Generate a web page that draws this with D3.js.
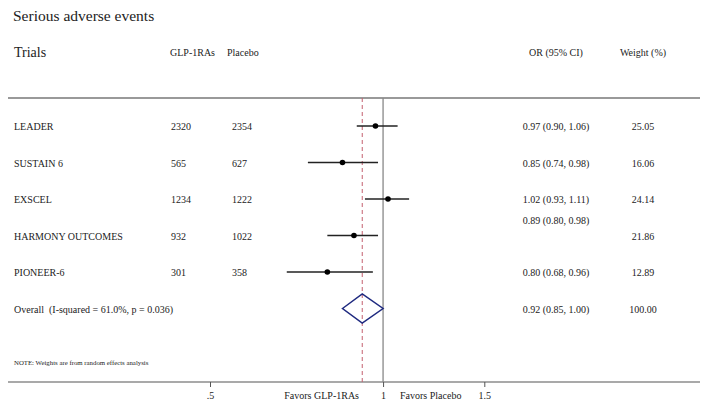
<!DOCTYPE html>
<html>
<head>
<meta charset="utf-8">
<script src="https://cdn.jsdelivr.net/npm/d3@7"></script>
<style>
  body { margin: 0; background: #fff; }
  svg text { font-family: "Liberation Serif", "Times New Roman", serif; fill: #222; white-space: pre; }
</style>
</head>
<body>
<div id="chart"></div>
<script>
// Data
let trials = ["LEADER", "SUSTAIN 6", "EXSCEL", "HARMONY OUTCOMES", "PIONEER-6"];
let glpEvents = [2320, 565, 1234, 932, 301];
let placeboEvents = [2354, 627, 1222, 1022, 358];
let orValues = [0.97, 0.85, 1.02, 0.89, 0.80];
let ciLow = [0.90, 0.74, 0.93, 0.80, 0.68];
let ciHigh = [1.06, 0.98, 1.11, 0.98, 0.96];
let weights = ["25.05", "16.06", "24.14", "21.86", "12.89"];

let overall = { label: "Overall  (I-squared = 61.0%, p = 0.036)", or: 0.92, lo: 0.85, hi: 1.00, weight: "100.00" };

let tickValues = [0.5, 1, 1.5];
let tickLabels = [".5", "1", "1.5"];

// Layout
let width = 708, height = 408;
let rowTop = 126, rowStep = 36.5;
let headerLineY = 98, axisY = 382;
let bodyFont = "10px";

let svg = d3.select("#chart").append("svg")
  .attr("width", width)
  .attr("height", height);

let xScale = d3.scaleLog().domain([0.5, 1.5]).range([210, 484.3]);
let yScale = d3.scaleLinear().domain([0, 1]).range([rowTop, rowTop + rowStep]);

// Title and headers
svg.append("text").attr("x", 13).attr("y", 21).style("font-size", "15.5px").text("Serious adverse events");
svg.append("text").attr("x", 14).attr("y", 57).style("font-size", "14px").text("Trials");
svg.append("text").attr("x", 170).attr("y", 56).style("font-size", "10px").text("GLP-1RAs");
svg.append("text").attr("x", 227).attr("y", 56).style("font-size", "10px").text("Placebo");
svg.append("text").attr("x", 556).attr("y", 56).attr("text-anchor", "middle").style("font-size", "10px").text("OR (95% CI)");
svg.append("text").attr("x", 643).attr("y", 56).attr("text-anchor", "middle").style("font-size", "10px").text("Weight (%)");

// Header rule and axis rule
svg.append("line").attr("x1", 8).attr("x2", 700).attr("y1", headerLineY).attr("y2", headerLineY)
  .attr("stroke", "#777").attr("stroke-width", 1.5);
svg.append("line").attr("x1", 8).attr("x2", 700).attr("y1", axisY).attr("y2", axisY)
  .attr("stroke", "#555").attr("stroke-width", 1.2);

// Null line and overall dashed line
svg.append("line").attr("x1", xScale(1)).attr("x2", xScale(1)).attr("y1", headerLineY).attr("y2", axisY)
  .attr("stroke", "#888").attr("stroke-width", 1.3);
svg.append("line").attr("x1", xScale(overall.or)).attr("x2", xScale(overall.or)).attr("y1", headerLineY).attr("y2", axisY)
  .attr("stroke", "#c4606e").attr("stroke-width", 1).attr("stroke-dasharray", "4,3");

// Trial rows
let rows = svg.append("g").attr("class", "rows");

rows.selectAll(".ci")
  .data(trials)
  .enter()
  .append("line")
  .attr("x1", (d, i) => xScale(ciLow[i]))
  .attr("x2", (d, i) => xScale(ciHigh[i]))
  .attr("y1", (d, i) => yScale(i))
  .attr("y2", (d, i) => yScale(i))
  .attr("stroke", "#222")
  .attr("stroke-width", 1.5);

rows.selectAll(".pt")
  .data(trials)
  .enter()
  .append("circle")
  .attr("cx", (d, i) => xScale(orValues[i]))
  .attr("cy", (d, i) => yScale(i))
  .attr("r", 2.8)
  .attr("fill", "#000");

function addColumn(values, x, anchor, shift) {
  rows.selectAll(null)
    .data(values)
    .enter()
    .append("text")
    .attr("x", x)
    .attr("y", (d, i) => yScale(i) + 4 + (shift ? shift(i) : 0))
    .attr("text-anchor", anchor)
    .style("font-size", bodyFont)
    .text(d => d);
}

addColumn(trials, 14, "start");
addColumn(glpEvents, 171, "start");
addColumn(placeboEvents, 232, "start");
// the HARMONY OR label sits higher than its row in the original
addColumn(trials.map((t, i) => orValues[i].toFixed(2) + " (" + ciLow[i].toFixed(2) + ", " + ciHigh[i].toFixed(2) + ")"),
  556, "middle", i => trials[i] === "HARMONY OUTCOMES" ? -16 : 0);
addColumn(weights, 643, "middle");

// Overall row
let oy = yScale(trials.length);
let diamond = [
  [xScale(overall.lo), oy],
  [xScale(overall.or), oy - 14.5],
  [xScale(overall.hi), oy],
  [xScale(overall.or), oy + 14.5]
];
svg.append("polygon")
  .attr("points", diamond.map(p => p.join(",")).join(" "))
  .attr("fill", "none")
  .attr("stroke", "#1f2a80")
  .attr("stroke-width", 1.5);

svg.append("text").attr("x", 14).attr("y", oy + 4).style("font-size", bodyFont).text(overall.label);
svg.append("text").attr("x", 556).attr("y", oy + 4).attr("text-anchor", "middle").style("font-size", bodyFont)
  .text(overall.or.toFixed(2) + " (" + overall.lo.toFixed(2) + ", " + overall.hi.toFixed(2) + ")");
svg.append("text").attr("x", 643).attr("y", oy + 4).attr("text-anchor", "middle").style("font-size", bodyFont)
  .text(overall.weight);

// Footnote
svg.append("text").attr("x", 14).attr("y", 365).style("font-size", "6.8px")
  .text("NOTE: Weights are from random effects analysis");

// X axis ticks
let xAxis = d3.axisBottom(xScale)
  .tickValues(tickValues)
  .tickSize(5)
  .tickFormat((d, i) => tickLabels[i]);

let axisG = svg.append("g").attr("transform", "translate(0," + axisY + ")").call(xAxis);
axisG.select(".domain").remove();
axisG.selectAll(".tick line").attr("stroke", "#555");
axisG.selectAll(".tick text")
  .attr("y", 10)
  .style("font-family", "Liberation Serif, serif")
  .style("font-size", bodyFont)
  .attr("fill", "#222");

svg.append("text").attr("x", 359).attr("y", 399).attr("text-anchor", "end").style("font-size", bodyFont).text("Favors GLP-1RAs");
svg.append("text").attr("x", 400).attr("y", 399).style("font-size", bodyFont).text("Favors Placebo");
</script>
</body>
</html>
